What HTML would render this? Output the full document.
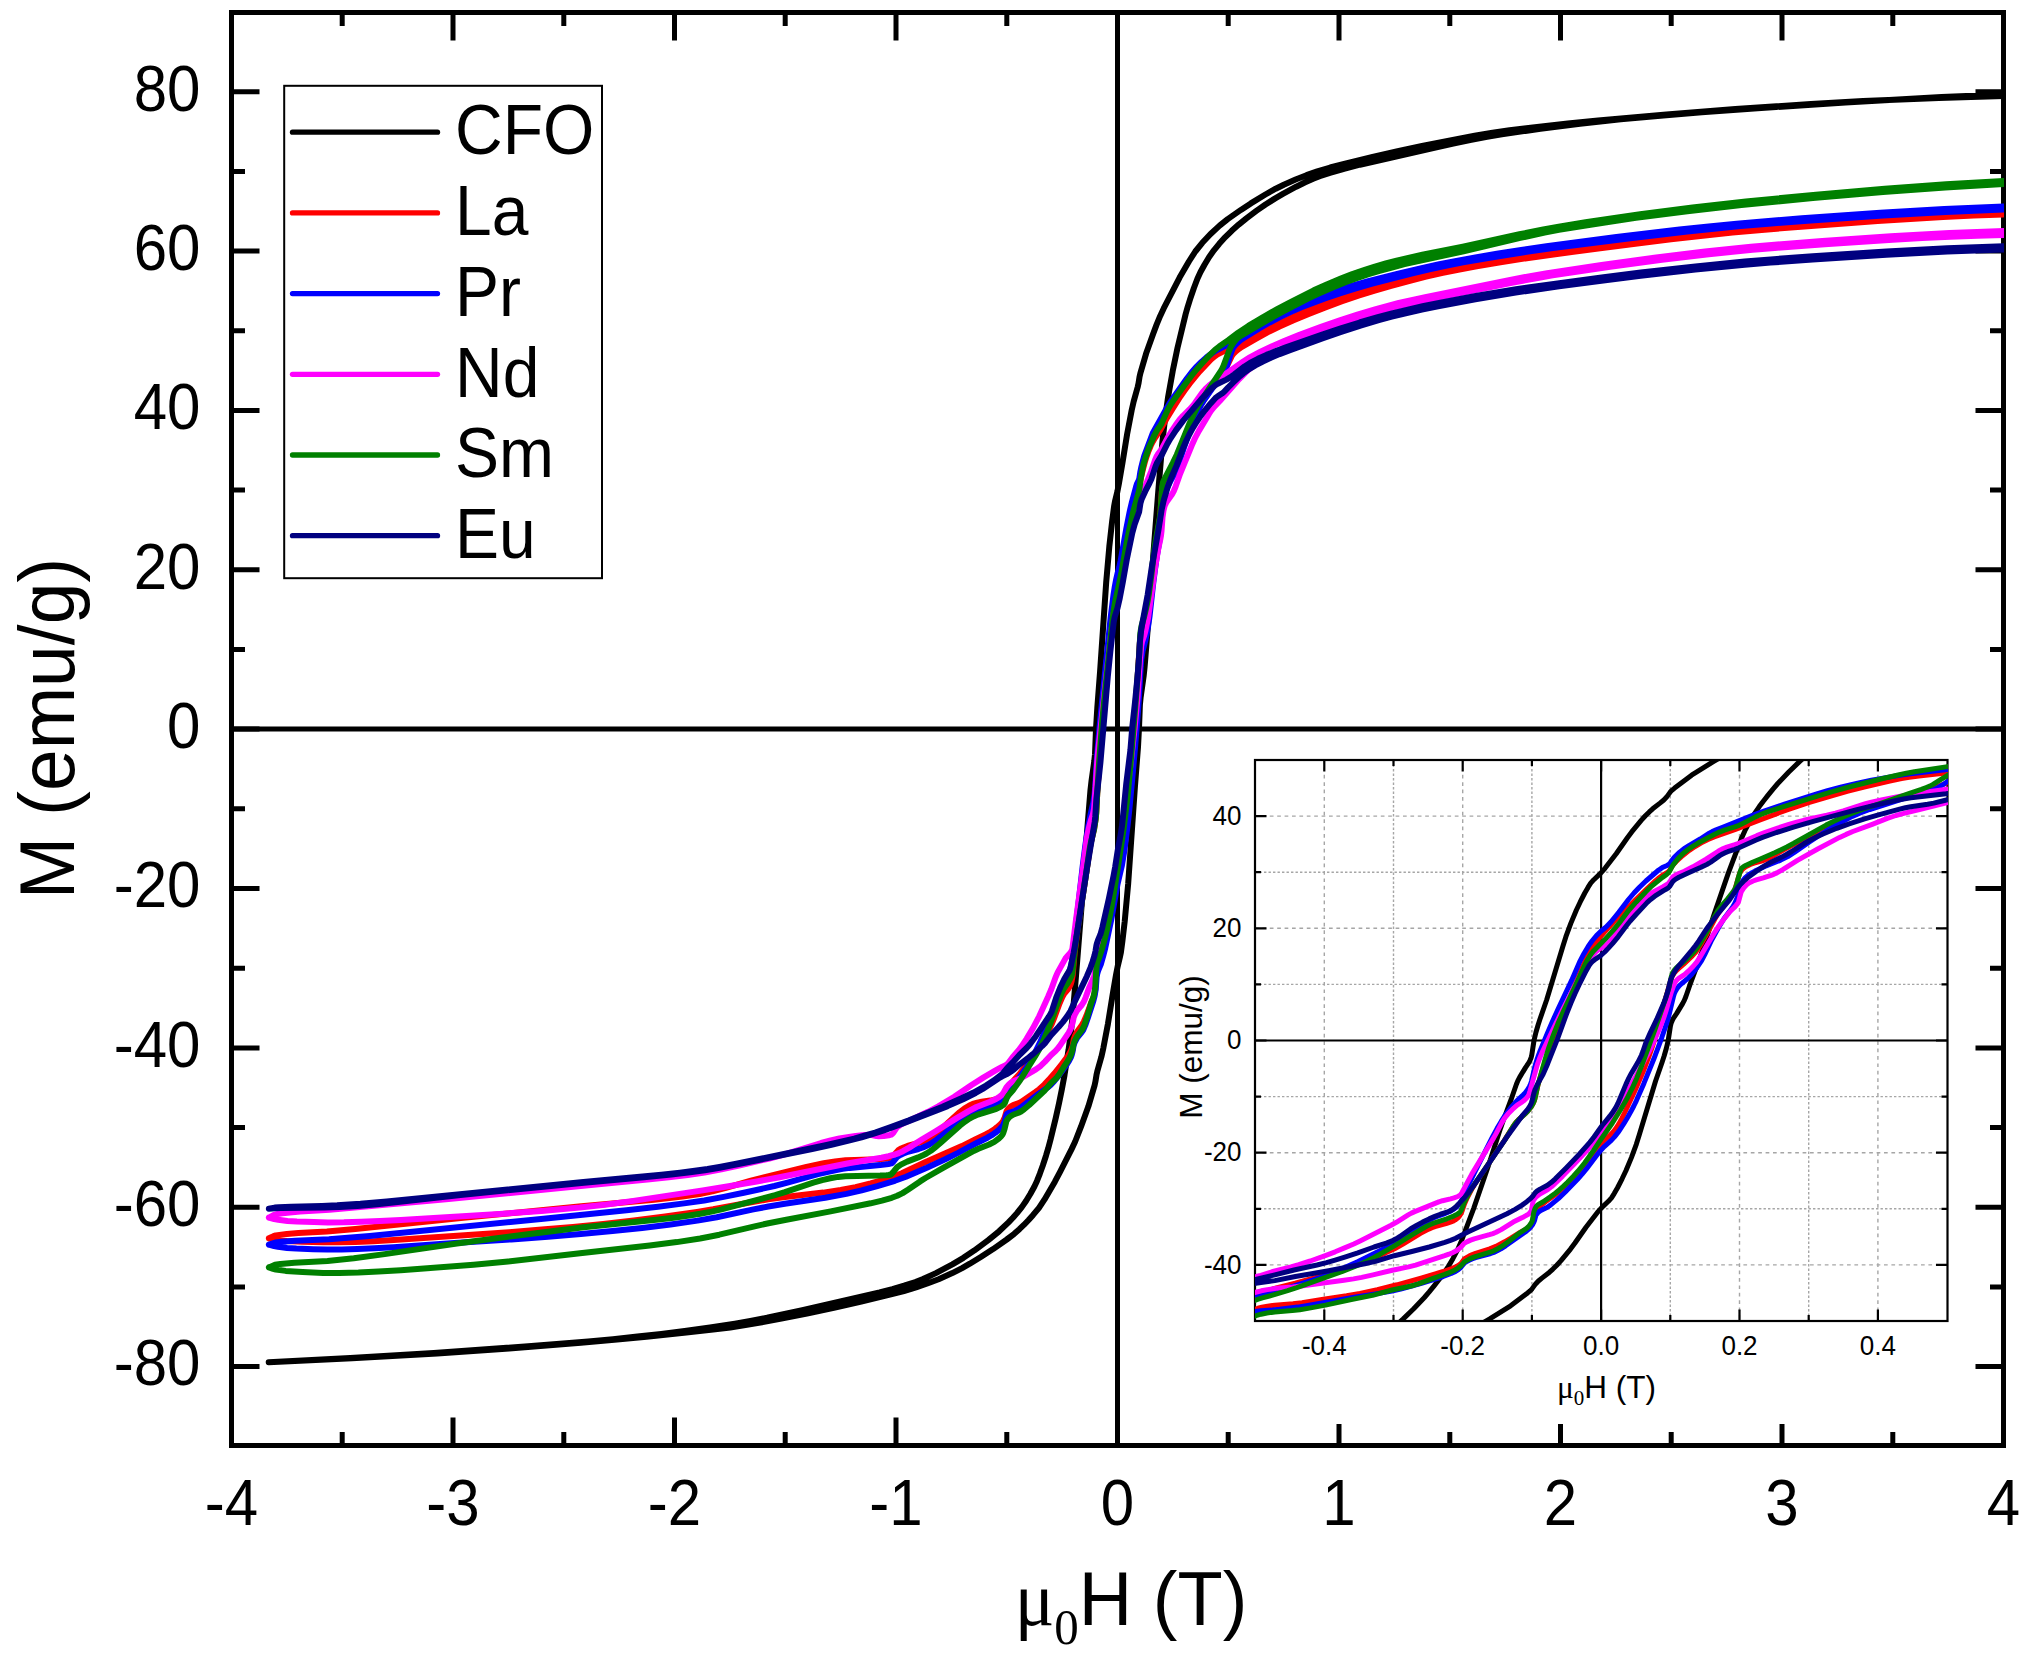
<!DOCTYPE html><html><head><meta charset="utf-8"><title>M-H loops</title>
<style>html,body{margin:0;padding:0;background:#fff;}svg{display:block;}</style></head><body>
<svg width="2038" height="1653" viewBox="0 0 2038 1653">
<rect width="100%" height="100%" fill="#fff"/>
<defs><clipPath id="cm"><rect x="231.5" y="12.5" width="1772.5" height="1433"/></clipPath><clipPath id="ci"><rect x="1255" y="760" width="693" height="561"/></clipPath></defs>
<g stroke="#000" stroke-width="5" fill="none">
<line x1="1117.5" y1="12.5" x2="1117.5" y2="1445.5"/>
<line x1="231.5" y1="729.1" x2="2003.5" y2="729.1"/>
</g>
<path d="M342.2 1445.5V1432M342.2 12.5V26M453 1445.5V1417.5M453 12.5V40.5M563.8 1445.5V1432M563.8 12.5V26M674.5 1445.5V1417.5M674.5 12.5V40.5M785.2 1445.5V1432M785.2 12.5V26M896 1445.5V1417.5M896 12.5V40.5M1006.8 1445.5V1432M1006.8 12.5V26M1117.5 1445.5V1417.5M1117.5 12.5V40.5M1228.2 1445.5V1432M1228.2 12.5V26M1339 1445.5V1417.5M1339 12.5V40.5M1449.8 1445.5V1432M1449.8 12.5V26M1560.5 1445.5V1417.5M1560.5 12.5V40.5M1671.2 1445.5V1432M1671.2 12.5V26M1782 1445.5V1417.5M1782 12.5V40.5M1892.8 1445.5V1432M1892.8 12.5V26M231.5 1366.6H259.5M2003.5 1366.6H1975.5M231.5 1286.9H245M2003.5 1286.9H1990M231.5 1207.2H259.5M2003.5 1207.2H1975.5M231.5 1127.5H245M2003.5 1127.5H1990M231.5 1047.9H259.5M2003.5 1047.9H1975.5M231.5 968.2H245M2003.5 968.2H1990M231.5 888.5H259.5M2003.5 888.5H1975.5M231.5 808.8H245M2003.5 808.8H1990M231.5 729.1H259.5M2003.5 729.1H1975.5M231.5 649.5H245M2003.5 649.5H1990M231.5 569.8H259.5M2003.5 569.8H1975.5M231.5 490.1H245M2003.5 490.1H1990M231.5 410.4H259.5M2003.5 410.4H1975.5M231.5 330.8H245M2003.5 330.8H1990M231.5 251.1H259.5M2003.5 251.1H1975.5M231.5 171.4H245M2003.5 171.4H1990M231.5 91.7H259.5M2003.5 91.7H1975.5" stroke="#000" stroke-width="5" fill="none"/>
<rect x="231.5" y="12.5" width="1772" height="1433" fill="none" stroke="#000" stroke-width="5"/>
<g clip-path="url(#cm)" fill="none" stroke-width="6" stroke-linejoin="round" stroke-linecap="round"><path stroke="#000000" d="M268.7 1362.2L350.2 1358.0 433.8 1352.9 528.2 1346.3 588.2 1341.5 613.0 1339.2 637.4 1336.6 661.3 1333.9 684.7 1330.9 710.0 1327.4 734.9 1323.6 750.4 1320.9 767.0 1317.8 802.3 1310.2 879.6 1292.5 892.4 1289.1 904.1 1285.7 915.4 1282.0 923.0 1279.1 929.2 1276.3 935.9 1273.1 952.4 1264.3 963.4 1257.8 974.2 1250.6 988.3 1240.1 999.1 1231.3 1008.5 1222.4 1012.9 1217.8 1017.0 1213.1 1021.8 1207.1 1026.2 1200.8 1030.3 1194.0 1034.3 1186.7 1037.0 1180.9 1039.8 1173.8 1042.8 1165.5 1046.0 1155.7 1048.1 1148.7 1050.6 1139.3 1055.7 1118.2 1059.0 1103.3 1061.8 1089.6 1064.5 1075.1 1068.6 1049.6 1070.6 1034.8 1072.4 1018.7 1076.0 975.9 1081.4 908.2 1085.3 853.2 1090.5 789.8 1091.5 781.2 1094.3 761.0 1095.0 754.2 1096.0 729.2 1097.3 708.0 1100.1 671.3 1106.2 582.3 1109.3 546.7 1112.1 521.5 1114.1 506.3 1115.1 500.9 1117.4 491.5 1118.9 483.6 1122.4 463.3 1127.1 434.2 1131.7 410.1 1133.7 401.4 1137.7 387.0 1138.5 383.4 1139.6 376.6 1140.4 373.1 1146.1 353.6 1153.1 333.9 1156.6 324.6 1160.2 315.9 1163.7 308.4 1179.6 277.6 1188.9 261.5 1195.3 251.5 1202.3 242.8 1210.3 234.2 1219.6 225.6 1227.7 219.1 1240.9 209.9 1250.8 203.4 1265.4 194.5 1275.7 188.7 1283.8 184.7 1295.6 179.5 1306.5 175.2 1317.3 171.4 1330.2 167.5 1345.1 163.6 1372.6 157.0 1397.7 151.3 1422.1 146.0 1446.4 141.1 1474.7 135.8 1492.6 132.7 1509.6 130.2 1530.6 127.7 1567.8 123.6 1598.1 120.5 1666.4 114.5 1735.4 109.1 1810.9 104.0 1863.1 101.0 1938.8 97.9 2003.5 96.1M268.7 1362.2L352.1 1358.2 437.3 1353.4 509.2 1348.5 580.9 1342.8 617.1 1339.6 646.5 1336.8 686.3 1332.6 713.1 1329.6 730.3 1327.4 743.9 1325.4 758.8 1322.8 781.4 1318.6 808.2 1313.2 835.0 1307.5 861.3 1301.6 889.9 1294.7 903.9 1291.0 916.0 1287.4 927.3 1283.5 938.6 1279.2 952.3 1273.1 962.1 1268.1 969.8 1263.7 980.8 1257.0 993.1 1249.1 1006.8 1239.5 1014.2 1233.8 1019.4 1229.2 1024.1 1224.7 1028.6 1220.0 1032.9 1215.2 1039.0 1207.8 1044.4 1199.7 1054.9 1181.7 1060.2 1171.6 1071.6 1149.1 1075.2 1141.5 1081.0 1126.7 1088.4 1106.3 1094.6 1085.3 1095.4 1081.7 1096.5 1074.9 1097.3 1071.3 1101.4 1056.8 1103.4 1047.8 1107.9 1024.1 1112.6 995.0 1116.0 975.0 1117.6 966.8 1119.8 957.6 1120.9 952.3 1122.4 941.2 1124.7 921.5 1128.2 883.4 1134.9 787.0 1138.0 746.9 1139.0 728.2 1139.9 704.7 1140.6 697.7 1143.6 676.4 1144.6 667.0 1149.7 604.5 1153.6 551.3 1158.3 491.1 1162.4 441.8 1165.0 418.9 1168.1 397.0 1172.7 371.2 1177.5 347.9 1185.6 314.3 1187.7 306.8 1190.1 299.2 1193.9 288.0 1197.4 278.8 1200.5 272.0 1204.5 264.7 1209.0 257.2 1213.9 250.3 1219.2 243.8 1225.3 237.1 1231.7 230.8 1238.7 224.6 1246.4 218.4 1256.3 210.9 1265.5 204.5 1274.8 198.6 1282.9 193.9 1296.2 186.7 1305.2 182.3 1313.2 178.7 1319.7 176.2 1329.9 172.9 1344.0 168.8 1359.9 164.7 1435.4 147.5 1454.4 143.3 1471.3 139.9 1487.0 136.9 1501.8 134.4 1540.4 128.7 1580.0 123.7 1620.7 119.2 1663.3 115.4 1701.8 112.3 1757.6 108.3 1845.5 102.6 1941.6 97.1 1966.3 96.1 1987.6 95.7 1996.9 95.3 1999.3 94.6 2003.5 92.5"/><path stroke="#ff0000" d="M268.9 1238.3L273.5 1236.2 275.8 1235.4 286.8 1233.9 298.4 1233.0 326.9 1231.4 355.3 1228.9 460.8 1218.1 581.4 1206.2 654.1 1199.7 682.4 1196.5 699.6 1194.0 712.4 1191.4 725.0 1188.2 750.9 1180.7 761.9 1177.8 806.5 1166.9 823.8 1163.2 835.1 1161.4 845.5 1160.3 854.8 1159.9 877.2 1159.3 887.8 1158.5 889.9 1157.8 892.3 1156.6 893.8 1155.2 898.1 1150.4 899.1 1149.6 901.2 1148.5 904.2 1147.2 907.4 1146.0 918.5 1143.0 922.8 1141.6 926.8 1139.9 930.7 1137.6 934.9 1134.6 939.5 1130.8 954.3 1116.9 959.5 1112.3 964.4 1108.5 969.0 1105.7 972.8 1103.9 977.3 1102.6 981.7 1101.7 991.9 1100.1 996.6 1099.1 1001.4 1097.5 1003.2 1096.4 1004.8 1094.5 1008.4 1088.1 1012.4 1082.1 1014.5 1079.5 1020.0 1073.4 1027.0 1064.6 1035.5 1053.5 1040.6 1045.5 1046.0 1035.7 1051.5 1024.5 1054.0 1018.4 1059.6 1003.3 1062.2 997.3 1064.3 993.6 1067.9 989.3 1069.3 987.2 1070.8 984.0 1071.6 981.1 1072.7 975.1 1074.6 952.9 1077.5 929.8 1086.6 870.7 1089.9 847.8 1091.1 841.6 1094.0 829.5 1095.7 818.6 1096.2 813.1 1097.3 792.0 1098.8 770.2 1103.6 710.0 1110.9 630.2 1112.8 611.8 1114.4 599.0 1115.9 589.7 1118.6 575.3 1124.5 546.9 1134.4 504.4 1136.9 495.2 1139.2 488.5 1140.9 477.8 1142.8 469.7 1144.8 462.2 1146.6 456.4 1148.5 451.1 1150.6 446.0 1152.6 442.0 1154.9 438.1 1160.5 429.5 1167.6 416.9 1172.8 408.4 1180.2 396.7 1184.9 390.0 1189.6 383.6 1194.7 377.3 1199.7 371.4 1211.2 359.3 1214.5 356.4 1217.6 354.3 1279.1 323.5 1293.7 316.4 1302.0 312.7 1309.8 309.5 1322.7 304.5 1335.8 299.8 1351.5 294.4 1367.3 289.4 1383.1 284.8 1399.4 280.4 1416.9 276.1 1434.5 272.1 1452.0 268.5 1470.7 265.0 1494.3 260.9 1519.0 257.0 1544.8 253.2 1574.4 249.2 1613.4 244.2 1650.6 239.8 1686.2 235.8 1720.6 232.2 1750.7 229.3 1780.4 226.7 1826.8 223.0 1869.7 219.8 1939.1 215.3 1971.8 213.5 2003.5 212.0M268.9 1238.3L275.9 1239.8 286.9 1240.9 302.3 1241.7 323.3 1242.2 338.6 1242.2 355.6 1241.9 373.6 1241.2 393.8 1240.0 509.1 1232.2 541.8 1229.6 573.0 1226.9 603.2 1223.9 633.8 1220.4 665.1 1216.4 697.1 1211.9 713.2 1209.3 751.1 1202.2 768.2 1199.3 785.0 1197.0 823.3 1192.6 840.7 1190.0 855.6 1187.2 870.7 1183.5 879.6 1181.0 888.8 1178.1 896.1 1175.6 901.8 1173.3 926.2 1161.7 961.9 1146.1 976.2 1138.9 985.6 1134.5 990.4 1131.9 993.7 1129.8 996.7 1127.5 999.6 1125.0 1002.2 1122.4 1003.3 1120.6 1004.6 1117.8 1006.6 1111.1 1007.8 1109.3 1009.2 1107.8 1010.9 1106.4 1013.2 1105.1 1018.8 1103.1 1021.5 1101.7 1035.6 1092.0 1039.2 1089.3 1044.3 1084.6 1048.7 1079.9 1054.3 1073.5 1061.5 1064.5 1067.9 1056.0 1070.9 1050.7 1072.5 1046.4 1073.7 1039.6 1075.1 1035.6 1077.3 1031.5 1081.8 1025.2 1083.8 1021.7 1086.6 1015.2 1091.2 1002.5 1093.8 996.5 1094.6 993.2 1095.3 988.9 1096.0 976.2 1096.5 972.0 1097.1 968.1 1099.7 958.1 1104.4 942.6 1109.4 920.9 1111.9 908.5 1117.2 877.4 1121.3 859.4 1123.1 847.9 1125.2 830.8 1128.7 796.8 1132.8 752.4 1134.8 725.2 1138.0 671.1 1140.2 638.3 1141.6 630.0 1146.7 609.0 1148.7 597.8 1154.8 550.3 1158.1 530.6 1159.8 519.5 1160.5 513.0 1161.8 491.8 1162.8 486.0 1163.8 482.4 1165.3 479.0 1166.5 477.2 1169.5 473.4 1171.3 470.0 1176.4 457.3 1184.5 438.8 1190.9 423.3 1193.2 418.3 1196.2 412.4 1202.2 402.4 1207.9 394.0 1215.7 382.0 1222.5 372.5 1225.7 367.6 1228.5 362.9 1232.2 355.3 1233.8 353.4 1236.1 351.1 1238.8 348.9 1241.9 346.8 1256.2 338.6 1267.5 332.4 1279.5 326.5 1293.0 320.4 1308.7 313.9 1325.4 307.4 1342.1 301.3 1358.4 295.7 1374.7 290.6 1390.3 286.0 1408.9 281.0 1426.1 276.7 1442.8 272.9 1458.1 269.7 1476.6 266.3 1500.4 262.2 1526.7 258.2 1555.2 254.2 1600.1 248.2 1637.3 243.4 1671.0 239.3 1702.6 235.7 1732.5 232.6 1761.6 229.9 1794.3 227.2 1837.8 223.9 1877.6 221.1 1943.1 217.1 1973.8 215.6 2003.5 214.4"/><path stroke="#0000ff" d="M268.9 1244.7L275.3 1242.5 281.8 1241.7 295.3 1240.7 329.0 1239.2 369.7 1235.9 543.5 1218.8 626.5 1210.2 658.0 1206.8 684.1 1203.4 704.2 1200.5 723.7 1196.9 743.8 1192.8 774.4 1186.0 786.6 1182.9 818.0 1174.2 827.0 1172.0 835.2 1170.2 842.7 1168.9 849.8 1167.9 880.1 1165.1 888.5 1164.0 891.4 1163.4 892.2 1162.9 893.1 1162.0 897.1 1156.8 900.3 1154.9 903.4 1153.5 906.8 1152.2 918.5 1149.0 922.9 1147.5 927.3 1145.6 931.8 1143.0 936.0 1140.1 940.8 1136.5 961.1 1119.5 966.0 1116.0 970.5 1113.2 974.2 1111.3 978.2 1109.7 991.2 1105.8 995.8 1104.2 1000.5 1102.0 1002.2 1101.0 1003.4 1100.1 1004.8 1098.5 1006.7 1094.2 1009.1 1090.4 1013.7 1084.3 1019.4 1077.4 1026.9 1066.9 1031.0 1060.3 1035.7 1051.4 1040.2 1042.1 1049.8 1020.9 1052.1 1014.5 1056.7 999.4 1060.0 990.4 1063.8 981.3 1067.8 974.5 1069.1 971.9 1070.5 968.2 1071.4 964.8 1073.1 954.7 1074.5 939.7 1077.0 916.4 1082.7 866.1 1085.5 844.1 1088.5 825.0 1090.5 814.7 1093.2 803.2 1094.6 794.3 1095.3 786.5 1097.0 756.0 1100.2 720.1 1110.6 618.0 1113.4 595.5 1114.6 587.9 1116.0 580.2 1117.5 573.6 1119.2 567.6 1120.7 560.5 1126.3 528.8 1129.7 511.6 1131.9 502.3 1136.0 486.9 1137.1 483.5 1138.6 480.5 1139.3 478.8 1140.4 471.5 1141.3 467.2 1142.8 461.2 1144.3 455.8 1153.0 432.6 1165.3 410.6 1169.2 404.0 1174.2 396.4 1186.9 378.5 1191.9 372.0 1196.7 366.6 1201.4 361.9 1206.4 357.5 1211.5 353.6 1217.4 349.8 1226.5 345.3 1230.5 343.0 1249.8 330.3 1276.4 314.9 1286.3 309.7 1295.2 305.3 1303.4 301.7 1311.5 298.5 1322.5 294.6 1334.2 290.8 1349.5 286.3 1367.4 281.5 1398.2 273.7 1420.6 268.4 1438.2 264.5 1455.1 261.1 1475.5 257.4 1496.9 253.7 1521.2 249.9 1546.5 246.2 1616.5 237.0 1679.5 229.6 1708.7 226.5 1736.7 223.7 1765.6 221.2 1801.9 218.3 1880.3 212.8 1944.3 209.0 2003.5 206.4M268.9 1244.7L274.1 1246.1 277.9 1246.8 287.1 1247.9 296.4 1248.6 313.2 1249.2 327.1 1249.5 341.7 1249.4 357.4 1249.0 374.4 1248.3 393.5 1247.2 454.5 1243.0 511.3 1239.4 548.1 1236.8 580.8 1234.1 612.5 1231.1 642.2 1227.9 670.5 1224.4 697.5 1220.6 716.8 1217.2 753.4 1209.4 768.3 1206.5 784.8 1203.8 825.2 1197.7 846.4 1193.9 861.7 1190.4 877.3 1186.2 894.9 1180.8 906.0 1176.7 926.8 1167.8 945.2 1159.3 958.1 1152.9 975.7 1143.5 987.4 1137.7 991.7 1135.2 995.5 1132.6 999.0 1129.7 1002.1 1126.4 1003.3 1124.6 1004.6 1121.9 1006.1 1115.5 1006.7 1114.0 1008.6 1112.9 1012.3 1111.9 1014.8 1110.8 1018.0 1109.2 1020.6 1107.6 1038.5 1093.9 1047.4 1087.6 1050.9 1084.6 1054.2 1081.2 1057.9 1076.7 1066.5 1064.9 1069.0 1061.0 1070.8 1057.4 1071.7 1054.9 1072.6 1051.5 1073.7 1045.1 1074.9 1042.0 1077.1 1037.9 1081.4 1032.7 1083.2 1030.0 1085.2 1025.4 1087.6 1018.6 1093.3 1001.0 1094.6 996.1 1095.7 989.6 1096.6 977.3 1097.2 974.0 1098.3 970.2 1100.8 964.4 1103.2 956.0 1105.2 948.2 1111.3 919.4 1117.5 884.3 1121.8 865.9 1124.5 849.7 1127.5 826.0 1129.4 808.8 1132.1 780.2 1135.0 747.7 1137.9 712.4 1139.1 695.1 1140.8 665.2 1141.3 659.2 1142.6 651.1 1145.2 641.1 1146.4 635.4 1148.1 626.2 1149.6 616.0 1152.9 586.0 1155.0 569.3 1156.9 555.8 1159.2 542.4 1160.2 535.1 1161.4 522.2 1162.8 503.2 1163.4 499.3 1164.1 495.8 1165.5 491.6 1167.0 488.0 1170.0 481.9 1175.0 473.0 1177.2 468.0 1179.3 462.0 1184.0 447.3 1189.8 430.9 1194.0 420.0 1197.8 411.0 1200.4 406.0 1203.4 401.1 1215.3 384.1 1221.4 376.6 1223.9 372.8 1225.3 370.0 1227.0 365.6 1230.2 355.3 1232.1 350.2 1233.0 348.0 1234.6 345.9 1236.5 343.7 1240.7 340.0 1243.8 337.9 1259.6 328.2 1269.6 322.5 1279.9 317.1 1290.4 312.1 1301.4 307.3 1313.4 302.6 1326.3 297.9 1339.8 293.3 1354.2 288.9 1372.2 283.7 1393.7 278.0 1412.4 273.3 1430.4 269.1 1446.9 265.6 1463.0 262.4 1483.6 258.7 1505.0 255.2 1528.2 251.6 1552.8 248.1 1628.2 238.4 1687.2 231.5 1740.6 226.1 1768.3 223.7 1807.2 220.8 1883.1 215.5 1945.6 212.0 2003.5 209.6"/><path stroke="#ff00ff" d="M268.9 1217.6L273.5 1215.2 276.1 1214.3 282.4 1213.3 289.8 1212.4 300.2 1211.6 329.6 1209.7 448.7 1198.9 510.2 1193.0 588.2 1185.2 647.4 1179.6 668.8 1177.3 687.7 1175.0 704.5 1172.5 721.4 1169.4 740.1 1165.4 769.3 1158.5 784.7 1154.3 821.1 1143.0 830.7 1140.4 839.4 1138.5 855.6 1135.9 864.9 1134.9 870.5 1134.8 876.5 1136.1 878.6 1136.3 883.7 1136.1 888.8 1135.3 891.2 1134.7 892.1 1134.1 893.3 1132.7 896.9 1127.4 898.1 1126.4 900.3 1124.9 903.8 1123.1 910.3 1120.2 928.0 1111.8 938.3 1106.4 954.3 1096.7 971.2 1085.2 983.3 1077.6 995.6 1070.4 1002.0 1066.9 1005.6 1065.3 1007.2 1064.2 1008.9 1062.3 1012.8 1056.9 1018.4 1050.6 1021.4 1046.7 1026.6 1038.9 1033.0 1028.1 1039.2 1016.3 1048.1 996.7 1051.3 989.2 1055.6 977.2 1057.7 972.4 1065.5 958.4 1066.8 956.7 1070.4 952.8 1071.6 950.8 1072.4 948.7 1076.1 919.0 1083.1 867.4 1086.6 839.4 1087.7 833.3 1089.1 827.1 1090.7 820.9 1093.0 814.0 1094.1 808.2 1094.7 800.7 1097.1 763.1 1098.5 747.5 1105.1 686.8 1111.5 630.2 1113.4 615.6 1114.4 609.6 1115.7 603.7 1117.5 597.8 1119.1 593.5 1120.3 588.6 1123.1 572.8 1126.5 551.3 1128.5 541.1 1131.0 529.8 1132.5 523.8 1133.7 519.6 1137.4 510.5 1139.0 506.1 1139.4 504.1 1140.4 497.3 1140.9 495.2 1141.9 492.9 1144.2 488.8 1146.8 482.5 1151.1 471.5 1155.1 460.0 1156.7 456.3 1157.8 454.4 1160.3 451.1 1161.6 449.2 1167.6 437.8 1171.0 432.2 1175.5 425.3 1179.5 419.8 1183.0 415.8 1189.5 409.5 1192.2 406.6 1194.8 403.3 1202.6 392.2 1205.5 389.0 1209.3 385.4 1213.2 382.2 1217.4 379.0 1228.8 371.8 1243.3 361.5 1249.8 357.4 1260.5 351.7 1272.1 346.2 1284.7 340.8 1299.5 334.9 1320.4 327.1 1339.8 320.3 1358.2 314.3 1375.9 309.1 1398.8 303.0 1425.3 297.1 1507.7 280.4 1528.7 276.4 1547.2 273.1 1601.6 264.9 1656.2 257.4 1705.1 251.5 1751.0 246.8 1774.5 244.8 1822.3 241.0 1890.8 236.3 1949.4 233.1 1976.9 232.0 2003.5 231.1M268.9 1217.6L274.2 1219.1 278.2 1219.8 287.5 1220.9 296.9 1221.5 313.9 1222.1 327.9 1222.4 343.9 1222.3 361.2 1221.8 379.8 1221.1 400.8 1220.0 499.3 1213.9 541.6 1210.9 579.8 1207.5 604.9 1204.7 633.3 1200.9 702.7 1190.4 731.6 1185.8 756.8 1181.5 778.3 1177.5 848.6 1163.2 881.4 1157.7 888.6 1156.2 895.0 1154.5 898.8 1153.1 902.9 1151.2 909.2 1147.6 922.2 1139.3 935.2 1131.5 956.3 1118.4 968.7 1111.1 976.5 1107.0 990.1 1101.8 996.0 1099.0 999.4 1096.9 1002.2 1094.6 1003.3 1093.1 1006.5 1087.2 1009.1 1084.3 1011.4 1082.3 1013.7 1081.0 1018.8 1079.2 1021.8 1077.7 1035.9 1069.4 1040.1 1066.3 1045.0 1061.6 1051.1 1055.0 1055.5 1051.1 1057.3 1049.1 1059.6 1046.1 1068.6 1032.9 1070.3 1029.7 1071.4 1027.0 1072.6 1022.8 1073.7 1017.4 1074.7 1014.8 1076.9 1010.8 1081.8 1005.0 1084.0 1001.4 1085.6 997.6 1089.4 987.1 1092.7 979.6 1094.1 976.1 1094.6 974.1 1095.2 970.3 1095.7 957.5 1096.4 952.8 1097.9 947.3 1100.4 940.8 1101.7 936.7 1105.2 921.7 1108.9 904.7 1114.9 875.3 1121.7 834.5 1124.1 816.9 1130.9 761.4 1134.6 728.7 1137.6 696.8 1140.0 660.4 1141.2 645.9 1142.1 641.6 1144.0 636.1 1145.4 630.9 1148.1 617.7 1155.2 566.8 1158.5 547.5 1160.3 539.4 1161.0 535.4 1161.5 531.2 1162.5 517.2 1163.5 510.6 1164.6 506.1 1166.4 502.2 1171.9 494.6 1173.8 491.0 1175.8 486.1 1180.1 473.8 1184.3 463.5 1191.7 445.6 1195.3 437.6 1198.9 430.9 1209.0 413.9 1211.3 410.4 1213.9 407.1 1219.8 400.9 1239.1 379.1 1246.4 371.6 1250.3 368.3 1258.1 362.7 1265.5 357.9 1273.2 353.3 1283.4 347.8 1294.7 342.4 1309.6 335.8 1324.0 330.0 1338.1 324.6 1352.4 319.6 1366.9 315.0 1381.7 310.7 1402.9 305.2 1427.7 299.7 1511.8 282.8 1533.4 278.7 1552.6 275.4 1610.1 266.8 1661.9 259.8 1708.7 254.2 1752.5 249.8 1774.7 247.9 1824.8 244.2 1892.6 239.7 1922.2 238.1 1950.4 236.8 1977.4 235.8 2003.5 235.1"/><path stroke="#008000" d="M268.9 1267.4L275.0 1264.8 280.4 1263.9 294.4 1262.7 327.5 1260.9 353.8 1258.2 384.7 1254.1 456.9 1243.5 527.9 1234.2 583.8 1227.3 656.0 1219.8 673.6 1217.7 689.3 1215.5 700.3 1213.8 710.2 1211.9 721.5 1209.3 734.7 1205.9 775.1 1195.1 784.9 1192.1 813.3 1182.7 822.2 1180.1 830.3 1178.3 838.1 1176.9 845.4 1176.2 880.2 1175.6 886.4 1175.3 888.9 1175.0 890.7 1174.5 891.7 1173.8 893.0 1172.4 897.0 1167.3 900.9 1164.6 907.1 1161.6 918.2 1157.4 922.4 1155.6 926.5 1153.5 930.8 1150.8 934.9 1147.6 939.5 1143.8 959.8 1125.7 964.9 1121.7 969.5 1118.6 973.6 1116.4 977.9 1114.6 991.6 1110.4 996.3 1108.8 1000.9 1106.6 1003.5 1104.8 1004.8 1103.2 1006.5 1098.6 1007.5 1096.8 1009.1 1094.6 1012.9 1090.2 1020.3 1080.0 1035.0 1056.5 1039.4 1048.9 1043.4 1040.6 1047.1 1031.9 1051.5 1020.3 1056.7 1005.8 1061.6 993.2 1063.9 988.5 1068.1 982.5 1070.3 978.5 1071.5 975.9 1072.4 972.8 1074.2 955.1 1076.5 936.6 1086.5 871.3 1089.5 849.8 1090.9 842.2 1094.1 829.3 1095.7 819.0 1096.3 812.4 1097.3 792.1 1099.3 759.5 1102.2 721.3 1105.4 688.3 1111.9 625.2 1113.8 609.7 1115.2 601.6 1118.7 585.8 1121.6 571.6 1126.2 545.3 1128.8 532.0 1133.4 511.0 1138.9 491.4 1139.5 488.4 1140.5 480.0 1142.0 471.4 1143.6 463.9 1145.6 457.0 1148.7 448.2 1153.9 436.2 1157.0 430.3 1160.3 425.7 1161.7 423.4 1167.0 411.4 1168.7 408.0 1171.2 403.8 1174.2 399.4 1186.6 382.2 1191.3 375.9 1196.4 369.7 1202.1 363.3 1210.4 354.3 1215.0 349.8 1219.2 346.5 1228.3 340.2 1238.2 332.7 1248.4 325.9 1263.2 317.0 1277.6 308.9 1290.5 302.1 1313.7 290.3 1327.3 284.2 1340.8 278.5 1352.3 274.0 1364.0 270.1 1374.9 266.6 1385.8 263.5 1396.6 260.6 1407.3 258.1 1422.4 254.8 1462.8 246.8 1519.5 234.3 1543.3 229.4 1558.7 226.7 1585.6 222.3 1612.8 218.2 1640.2 214.3 1692.6 207.5 1745.9 201.5 1816.0 194.7 1884.8 188.7 1946.1 184.3 2003.5 181.0M268.9 1267.4L273.1 1268.8 275.8 1269.5 285.7 1270.9 302.6 1272.0 323.2 1272.9 339.3 1272.9 358.4 1272.5 378.4 1271.6 400.8 1270.2 473.6 1264.8 508.1 1261.5 580.0 1253.3 649.7 1245.6 676.8 1242.1 700.1 1238.5 709.2 1236.8 719.3 1234.7 754.6 1226.3 768.5 1223.2 786.3 1219.7 830.6 1211.4 870.6 1203.3 882.0 1200.6 891.8 1197.8 897.2 1195.8 902.6 1193.1 907.9 1189.7 920.1 1181.4 925.5 1178.0 944.0 1167.4 973.7 1150.9 978.4 1148.8 989.1 1144.5 994.3 1141.8 998.8 1138.5 1001.1 1136.3 1002.3 1134.9 1003.3 1132.9 1004.6 1128.9 1006.5 1120.9 1007.5 1119.3 1008.7 1117.8 1010.6 1116.2 1013.1 1114.7 1018.6 1112.7 1021.0 1111.5 1024.1 1109.3 1029.2 1105.0 1038.0 1096.7 1044.2 1091.1 1050.7 1083.4 1056.2 1078.3 1058.7 1075.2 1063.6 1067.2 1067.5 1061.3 1069.3 1058.1 1070.8 1055.0 1071.6 1052.7 1072.6 1049.1 1073.7 1043.5 1075.1 1039.9 1077.3 1036.1 1082.0 1029.8 1083.9 1026.3 1086.4 1019.3 1091.1 1003.3 1093.4 997.1 1094.4 992.6 1095.3 986.5 1096.0 972.9 1096.7 965.0 1097.4 962.0 1099.0 958.2 1101.3 951.1 1104.2 941.1 1106.8 930.4 1110.1 914.5 1112.2 903.1 1115.0 886.1 1121.0 846.8 1123.7 828.2 1127.5 796.9 1130.5 764.8 1134.7 714.0 1138.2 669.0 1139.3 653.5 1140.3 633.5 1141.5 626.1 1143.9 617.5 1146.4 607.0 1147.7 600.8 1148.8 594.3 1151.6 573.2 1154.8 545.2 1159.4 520.3 1160.2 514.7 1160.7 509.2 1162.1 487.9 1162.6 484.1 1163.1 482.0 1163.8 480.3 1173.0 462.6 1176.9 454.5 1189.7 422.9 1194.3 413.0 1197.6 406.7 1201.2 400.7 1221.4 370.2 1223.5 365.9 1229.0 351.0 1230.7 347.0 1233.6 342.5 1236.8 338.8 1238.4 337.4 1240.3 336.2 1258.1 325.6 1271.9 317.6 1285.7 310.2 1308.0 298.7 1317.6 294.0 1333.2 287.2 1345.5 282.2 1356.7 278.1 1367.8 274.4 1379.5 270.9 1391.8 267.5 1404.5 264.2 1420.6 260.5 1463.5 251.4 1520.3 237.9 1544.6 232.5 1558.9 229.8 1584.1 225.7 1609.8 221.7 1635.9 217.9 1687.3 211.2 1741.4 205.1 1812.9 198.1 1883.0 192.1 1945.3 187.5 2003.5 184.1"/><path stroke="#000080" d="M268.9 1208.8L274.7 1207.6 278.8 1207.3 291.3 1206.7 322.0 1205.9 337.1 1205.3 360.4 1203.8 386.8 1201.5 583.4 1182.1 661.4 1174.7 679.9 1172.7 696.6 1170.6 707.6 1169.0 719.5 1166.9 735.1 1163.9 797.2 1151.3 825.6 1145.3 854.2 1138.6 865.3 1135.5 875.2 1132.5 891.4 1126.8 909.0 1120.2 942.5 1106.7 961.5 1098.3 973.6 1092.5 986.0 1085.5 994.0 1080.4 1000.8 1075.1 1002.9 1073.2 1006.7 1068.7 1013.0 1062.2 1019.4 1055.0 1026.6 1048.0 1029.7 1044.5 1035.8 1036.2 1048.8 1016.7 1050.6 1013.7 1051.9 1010.9 1056.6 996.5 1060.3 987.3 1064.3 979.0 1066.1 975.9 1069.1 971.2 1070.0 969.2 1070.9 965.8 1073.7 952.5 1076.4 937.4 1087.0 868.0 1094.7 821.9 1095.3 816.2 1096.4 798.5 1098.9 777.0 1100.4 762.7 1107.8 676.6 1110.4 651.0 1113.7 622.2 1114.8 616.7 1117.5 608.0 1119.8 598.0 1122.9 581.8 1126.8 559.5 1132.3 533.0 1134.7 524.2 1139.1 512.0 1140.4 503.5 1141.5 499.6 1145.2 491.4 1149.5 483.1 1151.3 479.2 1155.6 466.2 1157.2 462.5 1161.3 455.9 1167.3 444.0 1170.3 438.8 1175.9 430.4 1183.2 420.6 1201.1 399.4 1208.9 391.1 1213.0 387.2 1215.3 385.3 1217.7 383.8 1226.4 379.6 1230.1 377.4 1234.3 374.4 1244.6 366.4 1250.0 362.9 1257.9 358.8 1266.5 354.9 1275.8 351.1 1286.6 347.1 1321.5 334.9 1340.1 328.7 1359.6 322.5 1377.8 317.2 1391.1 313.7 1406.9 309.9 1422.7 306.3 1439.1 302.9 1475.8 296.0 1516.0 289.3 1559.3 283.1 1603.6 277.3 1640.9 272.6 1695.5 266.4 1744.7 261.5 1770.7 259.4 1812.8 256.3 1886.5 251.5 1947.3 248.3 2003.5 246.3M268.9 1208.8L275.1 1208.2 280.8 1208.0 324.1 1207.4 339.5 1206.9 357.4 1205.9 377.1 1204.2 397.8 1202.1 460.4 1195.0 584.0 1182.8 644.0 1177.3 671.3 1174.5 690.0 1172.3 704.8 1170.2 719.6 1167.7 737.2 1164.3 812.1 1149.0 831.4 1144.8 848.7 1140.7 861.6 1137.4 873.0 1134.0 883.8 1130.4 902.3 1123.6 936.0 1110.7 947.6 1106.1 963.1 1099.2 975.6 1093.0 982.7 1088.9 998.5 1078.5 1002.1 1076.4 1006.8 1074.1 1011.0 1071.5 1014.1 1069.3 1019.8 1064.3 1027.9 1058.2 1032.5 1054.4 1042.1 1046.1 1044.8 1043.4 1051.0 1035.2 1058.8 1026.8 1062.8 1022.1 1067.3 1016.1 1070.5 1011.0 1075.5 1000.0 1086.9 976.2 1090.4 967.8 1092.6 961.7 1094.5 955.5 1095.5 951.1 1096.4 945.5 1097.0 943.1 1097.9 940.4 1100.5 934.2 1102.4 927.2 1108.8 898.9 1113.5 876.0 1115.2 866.8 1117.8 850.0 1120.8 833.9 1122.1 825.4 1126.3 783.3 1130.4 750.2 1132.3 726.8 1135.3 699.7 1137.5 676.9 1138.8 660.6 1139.8 643.0 1141.1 630.8 1142.5 622.5 1147.7 594.5 1151.9 566.5 1158.5 529.7 1161.7 509.4 1163.8 500.2 1167.6 487.4 1170.4 479.4 1176.6 465.4 1183.0 448.2 1186.1 441.0 1189.4 434.2 1192.9 427.9 1196.4 422.2 1200.7 415.9 1204.9 410.3 1210.6 403.4 1215.3 398.2 1217.4 396.5 1221.9 393.6 1223.9 392.0 1228.0 387.6 1233.8 381.9 1238.9 377.1 1243.2 373.4 1248.7 369.3 1255.4 365.3 1262.8 361.5 1270.8 357.8 1279.5 354.1 1290.0 350.2 1323.0 338.2 1341.1 331.9 1360.5 325.6 1378.8 320.2 1391.8 316.7 1406.7 313.1 1421.9 309.6 1438.0 306.3 1475.3 299.3 1515.6 292.6 1559.0 286.3 1603.3 280.5 1640.6 275.8 1695.3 269.6 1744.6 264.7 1770.6 262.6 1812.6 259.5 1886.4 254.7 1947.3 251.5 2003.5 249.5"/></g>
<g font-family='"Liberation Sans", Arial, sans-serif' font-size="60" fill="#000"><text x="231.5" y="1524.5" text-anchor="middle" transform="translate(0 -106.7) scale(1 1.07)">-4</text><text x="453" y="1524.5" text-anchor="middle" transform="translate(0 -106.7) scale(1 1.07)">-3</text><text x="674.5" y="1524.5" text-anchor="middle" transform="translate(0 -106.7) scale(1 1.07)">-2</text><text x="896" y="1524.5" text-anchor="middle" transform="translate(0 -106.7) scale(1 1.07)">-1</text><text x="1117.5" y="1524.5" text-anchor="middle" transform="translate(0 -106.7) scale(1 1.07)">0</text><text x="1339" y="1524.5" text-anchor="middle" transform="translate(0 -106.7) scale(1 1.07)">1</text><text x="1560.5" y="1524.5" text-anchor="middle" transform="translate(0 -106.7) scale(1 1.07)">2</text><text x="1782" y="1524.5" text-anchor="middle" transform="translate(0 -106.7) scale(1 1.07)">3</text><text x="2003.5" y="1524.5" text-anchor="middle" transform="translate(0 -106.7) scale(1 1.07)">4</text><text x="200.5" y="1385.5" text-anchor="end" transform="translate(0 -97) scale(1 1.07)">-80</text><text x="200.5" y="1226.1" text-anchor="end" transform="translate(0 -85.8) scale(1 1.07)">-60</text><text x="200.5" y="1066.8" text-anchor="end" transform="translate(0 -74.7) scale(1 1.07)">-40</text><text x="200.5" y="907.4" text-anchor="end" transform="translate(0 -63.5) scale(1 1.07)">-20</text><text x="200.5" y="748" text-anchor="end" transform="translate(0 -52.4) scale(1 1.07)">0</text><text x="200.5" y="588.7" text-anchor="end" transform="translate(0 -41.2) scale(1 1.07)">20</text><text x="200.5" y="429.3" text-anchor="end" transform="translate(0 -30.1) scale(1 1.07)">40</text><text x="200.5" y="270" text-anchor="end" transform="translate(0 -18.9) scale(1 1.07)">60</text><text x="200.5" y="110.6" text-anchor="end" transform="translate(0 -7.7) scale(1 1.07)">80</text></g>
<text transform="translate(74,728.5) rotate(-90) scale(1 1.035)" text-anchor="middle" font-family='"Liberation Sans", Arial, sans-serif' font-size="75">M (emu/g)</text>
<text x="1131" y="1625" text-anchor="middle" font-family='"Liberation Sans", Arial, sans-serif' font-size="74" transform="translate(0 -56.9) scale(1 1.035)"><tspan font-family='"Liberation Serif", "Times New Roman", serif'>&#956;</tspan><tspan font-family='"Liberation Serif", "Times New Roman", serif' font-size="49" dy="18">0</tspan><tspan dy="-18">H (T)</tspan></text>
<rect x="284.2" y="85.8" width="317.8" height="492.4" fill="#fff" stroke="#000" stroke-width="2"/><line x1="292.5" y1="132.2" x2="437.5" y2="132.2" stroke="#000000" stroke-width="5.3" stroke-linecap="round"/><text x="455" y="154.5" font-family='"Liberation Sans", Arial, sans-serif' font-size="66" transform="translate(0 -11.6) scale(1 1.075)">CFO</text><line x1="292.5" y1="212.9" x2="437.5" y2="212.9" stroke="#ff0000" stroke-width="5.3" stroke-linecap="round"/><text x="455" y="235.2" font-family='"Liberation Sans", Arial, sans-serif' font-size="66" transform="translate(0 -17.6) scale(1 1.075)">La</text><line x1="292.5" y1="293.6" x2="437.5" y2="293.6" stroke="#0000ff" stroke-width="5.3" stroke-linecap="round"/><text x="455" y="315.9" font-family='"Liberation Sans", Arial, sans-serif' font-size="66" transform="translate(0 -23.7) scale(1 1.075)">Pr</text><line x1="292.5" y1="374.3" x2="437.5" y2="374.3" stroke="#ff00ff" stroke-width="5.3" stroke-linecap="round"/><text x="455" y="396.6" font-family='"Liberation Sans", Arial, sans-serif' font-size="66" transform="translate(0 -29.7) scale(1 1.075)">Nd</text><line x1="292.5" y1="455" x2="437.5" y2="455" stroke="#008000" stroke-width="5.3" stroke-linecap="round"/><text x="455" y="477.3" font-family='"Liberation Sans", Arial, sans-serif' font-size="66" transform="translate(0 -35.8) scale(1 1.075)">Sm</text><line x1="292.5" y1="535.7" x2="437.5" y2="535.7" stroke="#000080" stroke-width="5.3" stroke-linecap="round"/><text x="455" y="558" font-family='"Liberation Sans", Arial, sans-serif' font-size="66" transform="translate(0 -41.8) scale(1 1.075)">Eu</text>
<rect x="1160" y="740" width="810" height="684" fill="#fff"/><g stroke="#a6a6a6" stroke-width="1.4"><line x1="1324.3" y1="760" x2="1324.3" y2="1321" stroke-dasharray="3.7 3.7"/><line x1="1393.5" y1="760" x2="1393.5" y2="1321" stroke-dasharray="2.4 2.1"/><line x1="1462.7" y1="760" x2="1462.7" y2="1321" stroke-dasharray="3.7 3.7"/><line x1="1531.9" y1="760" x2="1531.9" y2="1321" stroke-dasharray="2.4 2.1"/><line x1="1670.3" y1="760" x2="1670.3" y2="1321" stroke-dasharray="2.4 2.1"/><line x1="1739.5" y1="760" x2="1739.5" y2="1321" stroke-dasharray="3.7 3.7"/><line x1="1808.7" y1="760" x2="1808.7" y2="1321" stroke-dasharray="2.4 2.1"/><line x1="1877.9" y1="760" x2="1877.9" y2="1321" stroke-dasharray="3.7 3.7"/><line x1="1255" y1="1264.9" x2="1947.5" y2="1264.9" stroke-dasharray="3.7 3.7"/><line x1="1255" y1="1208.8" x2="1947.5" y2="1208.8" stroke-dasharray="2.4 2.1"/><line x1="1255" y1="1152.7" x2="1947.5" y2="1152.7" stroke-dasharray="3.7 3.7"/><line x1="1255" y1="1096.6" x2="1947.5" y2="1096.6" stroke-dasharray="2.4 2.1"/><line x1="1255" y1="984.4" x2="1947.5" y2="984.4" stroke-dasharray="2.4 2.1"/><line x1="1255" y1="928.3" x2="1947.5" y2="928.3" stroke-dasharray="3.7 3.7"/><line x1="1255" y1="872.2" x2="1947.5" y2="872.2" stroke-dasharray="2.4 2.1"/><line x1="1255" y1="816.1" x2="1947.5" y2="816.1" stroke-dasharray="3.7 3.7"/></g><g stroke="#000" stroke-width="2.2"><line x1="1601.1" y1="760" x2="1601.1" y2="1321"/><line x1="1255" y1="1040.5" x2="1947.5" y2="1040.5"/></g><path d="M1324.3 1321V1309.5M1324.3 760V771.5M1393.5 1321V1315M1393.5 760V766M1462.7 1321V1309.5M1462.7 760V771.5M1531.9 1321V1315M1531.9 760V766M1601.1 1321V1309.5M1601.1 760V771.5M1670.3 1321V1315M1670.3 760V766M1739.5 1321V1309.5M1739.5 760V771.5M1808.7 1321V1315M1808.7 760V766M1877.9 1321V1309.5M1877.9 760V771.5M1255 1264.9H1266.5M1947.5 1264.9H1936M1255 1208.8H1261M1947.5 1208.8H1941.5M1255 1152.7H1266.5M1947.5 1152.7H1936M1255 1096.6H1261M1947.5 1096.6H1941.5M1255 1040.5H1266.5M1947.5 1040.5H1936M1255 984.4H1261M1947.5 984.4H1941.5M1255 928.3H1266.5M1947.5 928.3H1936M1255 872.2H1261M1947.5 872.2H1941.5M1255 816.1H1266.5M1947.5 816.1H1936" stroke="#000" stroke-width="2.2" fill="none"/><rect x="1255" y="760" width="692.5" height="561" fill="none" stroke="#000" stroke-width="2.2"/><g clip-path="url(#ci)" fill="none" stroke-width="5" stroke-linejoin="round" stroke-linecap="round"><path stroke="#000000" d="M1234.3 1393.4L1254.5 1389.1 1273.5 1384.7 1290.5 1380.3 1305.8 1375.8 1320.6 1370.9 1334.4 1365.5 1345.1 1360.9 1355.2 1355.5 1361.4 1351.8 1367.8 1347.8 1374.7 1343.1 1381.3 1338.3 1388.9 1332.0 1403.0 1319.1 1413.7 1308.8 1424.4 1297.5 1429.2 1291.9 1434.3 1285.6 1438.9 1279.8 1442.9 1274.4 1448.2 1266.6 1452.9 1258.7 1457.3 1250.3 1461.0 1242.1 1473.8 1208.1 1488.4 1165.8 1500.5 1128.3 1503.8 1119.0 1511.3 1099.0 1516.4 1084.3 1517.9 1080.6 1519.6 1077.4 1525.5 1067.6 1528.7 1062.9 1529.8 1060.8 1530.8 1058.5 1531.3 1056.9 1531.8 1054.9 1534.0 1040.5 1535.9 1032.5 1538.0 1025.2 1540.1 1018.8 1546.7 999.8 1562.9 946.3 1565.9 936.7 1570.8 923.4 1576.3 910.2 1580.1 902.2 1584.8 893.0 1588.0 887.4 1590.7 883.2 1593.8 879.7 1600.5 873.4 1605.0 868.3 1616.2 853.7 1627.4 837.7 1631.7 831.9 1641.2 820.4 1645.4 815.8 1649.3 811.9 1652.7 808.8 1660.3 802.9 1663.8 800.0 1666.6 797.1 1670.2 792.1 1672.2 790.1 1674.6 788.1 1691.6 775.2 1712.5 762.1 1727.5 753.3 1738.7 747.5 1746.8 743.7 1790.4 724.5 1815.5 714.5 1833.2 707.9 1847.7 703.2 1865.0 698.3 1876.7 695.4 1888.8 692.5 1915.1 686.9 1937.7 682.7 1967.9 677.8M1234.3 1403.2L1264.5 1398.3 1287.1 1394.1 1313.4 1388.5 1325.5 1385.6 1337.2 1382.7 1354.5 1377.8 1369.0 1373.1 1386.7 1366.5 1411.8 1356.5 1455.4 1337.3 1463.5 1333.5 1474.7 1327.7 1489.7 1318.9 1510.6 1305.8 1527.6 1292.9 1530.0 1290.9 1532.0 1288.9 1535.6 1283.9 1538.4 1281.0 1541.9 1278.1 1549.5 1272.2 1552.9 1269.1 1556.8 1265.2 1561.0 1260.6 1570.5 1249.1 1574.8 1243.3 1586.0 1227.3 1597.2 1212.7 1601.7 1207.6 1608.4 1201.3 1611.5 1197.8 1614.2 1193.6 1617.4 1188.0 1622.1 1178.8 1625.9 1170.8 1631.4 1157.6 1636.3 1144.3 1639.3 1134.7 1655.5 1081.2 1662.1 1062.2 1664.2 1055.8 1666.3 1048.5 1668.2 1040.5 1670.4 1026.1 1670.9 1024.1 1671.4 1022.5 1672.4 1020.2 1673.5 1018.1 1676.7 1013.4 1682.6 1003.6 1684.3 1000.4 1685.8 996.7 1690.9 982.0 1698.4 962.0 1701.7 952.7 1713.8 915.2 1728.4 872.9 1741.2 838.9 1744.9 830.7 1749.3 822.3 1754.0 814.4 1759.3 806.6 1763.3 801.2 1767.9 795.4 1773.0 789.1 1777.8 783.5 1788.5 772.2 1799.2 761.9 1813.3 749.0 1820.9 742.7 1827.5 737.9 1834.4 733.2 1840.8 729.2 1847.0 725.5 1857.1 720.1 1867.8 715.5 1881.6 710.1 1896.4 705.2 1911.7 700.7 1928.7 696.3 1947.7 691.9 1967.9 687.6"/><path stroke="#ff0000" d="M1234.3 1300.2L1241.8 1299.4 1248.3 1298.0 1260.9 1293.0 1272.7 1289.0 1279.3 1287.1 1295.2 1283.2 1314.3 1277.9 1342.6 1269.6 1350.3 1267.1 1357.7 1264.5 1366.7 1261.0 1375.8 1257.2 1385.2 1253.1 1394.6 1248.7 1402.5 1244.3 1420.5 1233.4 1428.7 1229.1 1432.0 1227.7 1435.0 1226.6 1446.0 1223.7 1450.4 1222.2 1452.9 1221.2 1455.2 1219.9 1457.7 1218.0 1459.5 1216.0 1461.0 1213.7 1462.0 1211.3 1464.5 1203.9 1467.1 1198.0 1471.7 1189.3 1476.4 1181.6 1504.6 1140.1 1512.4 1127.6 1514.7 1124.0 1516.5 1121.7 1518.5 1119.7 1525.1 1113.8 1527.7 1111.2 1531.1 1107.0 1533.1 1103.5 1534.1 1101.3 1534.7 1099.6 1538.0 1084.8 1542.7 1069.0 1548.0 1053.5 1557.8 1026.6 1566.8 1003.8 1580.8 970.5 1586.7 957.6 1589.3 952.6 1591.7 948.6 1593.9 945.3 1596.4 942.0 1605.0 931.5 1613.4 922.2 1624.4 910.8 1646.9 888.8 1654.1 882.0 1658.1 878.6 1661.9 875.7 1667.0 872.6 1668.9 871.1 1670.0 869.7 1672.7 865.4 1676.0 861.8 1682.5 855.7 1689.3 850.4 1695.1 846.5 1701.3 842.9 1707.5 839.7 1714.2 837.0 1734.8 829.7 1760.1 819.8 1787.8 809.6 1808.7 802.6 1830.8 796.0 1848.1 791.2 1864.2 787.0 1888.7 781.2 1901.6 778.5 1909.2 777.3 1918.9 776.0 1967.9 770.5M1234.3 1318.9L1240.6 1317.5 1244.2 1316.2 1248.7 1313.9 1253.0 1310.4 1254.5 1309.5 1257.9 1308.3 1261.9 1307.3 1267.6 1306.2 1274.9 1305.2 1293.0 1303.8 1302.0 1302.7 1323.5 1299.2 1346.6 1295.8 1360.0 1293.4 1377.3 1289.7 1397.0 1284.8 1421.0 1278.1 1443.3 1271.5 1451.6 1268.6 1455.4 1267.0 1457.9 1265.7 1460.9 1263.5 1464.5 1258.9 1466.9 1257.4 1469.5 1255.9 1472.4 1254.6 1475.6 1253.3 1489.7 1248.9 1495.9 1246.4 1504.6 1241.8 1510.9 1238.1 1518.9 1233.0 1524.7 1230.1 1527.2 1228.5 1529.7 1226.2 1531.9 1223.4 1532.5 1221.6 1534.0 1214.4 1535.4 1211.5 1537.4 1208.8 1539.9 1206.3 1545.5 1201.7 1556.1 1194.1 1560.3 1190.8 1565.5 1185.9 1575.8 1175.5 1580.1 1170.9 1583.5 1166.8 1596.7 1149.3 1600.1 1144.9 1603.5 1141.2 1610.1 1135.1 1612.9 1132.2 1615.8 1128.6 1618.7 1124.1 1621.7 1118.6 1625.0 1112.0 1636.1 1088.1 1643.0 1072.0 1648.8 1056.8 1652.3 1046.9 1655.2 1037.8 1661.4 1013.4 1665.2 999.6 1670.7 980.4 1672.1 976.5 1674.0 973.4 1676.3 970.7 1678.5 968.6 1683.7 964.2 1692.3 955.9 1695.8 952.0 1698.7 948.0 1701.7 943.1 1707.7 932.7 1714.6 919.6 1717.5 914.6 1720.7 910.0 1728.0 900.7 1731.7 895.4 1733.3 892.9 1734.7 890.2 1735.3 888.3 1739.6 873.4 1740.5 871.8 1742.5 869.3 1744.1 867.9 1745.7 866.7 1750.3 864.4 1754.0 863.1 1763.4 860.5 1766.1 859.5 1769.1 858.1 1773.5 855.7 1785.0 849.1 1810.5 836.1 1830.2 825.2 1837.1 821.9 1846.2 817.9 1856.2 813.9 1865.4 810.5 1883.6 804.5 1907.7 796.1 1929.1 789.4 1939.3 785.9 1947.9 782.7 1956.1 778.7 1959.3 777.3 1967.9 775.2"/><path stroke="#0000ff" d="M1234.3 1303.2L1242.6 1302.1 1248.3 1300.8 1250.1 1300.0 1254.7 1297.6 1260.2 1295.6 1276.4 1290.7 1294.0 1285.8 1312.5 1280.1 1326.4 1275.3 1339.7 1269.9 1358.1 1261.6 1388.9 1246.2 1393.5 1243.6 1396.7 1241.5 1411.2 1230.8 1421.7 1224.3 1428.1 1220.7 1433.4 1218.0 1437.0 1216.5 1445.5 1213.3 1449.7 1211.5 1454.1 1208.9 1455.6 1207.8 1457.0 1206.6 1459.7 1203.4 1462.3 1199.3 1464.6 1193.4 1466.7 1188.7 1474.6 1172.3 1492.5 1136.9 1497.0 1128.6 1501.2 1121.4 1505.5 1114.7 1510.6 1108.0 1516.8 1100.8 1523.0 1095.0 1525.3 1092.7 1527.7 1089.5 1529.5 1086.4 1530.7 1083.9 1531.6 1080.9 1535.2 1065.4 1537.0 1059.4 1540.2 1050.7 1547.0 1034.1 1551.8 1022.9 1558.1 1009.0 1571.6 980.4 1579.5 962.2 1583.9 953.7 1588.2 946.4 1592.0 941.0 1596.5 935.6 1601.2 931.0 1606.4 926.8 1611.1 921.8 1618.8 912.3 1628.5 899.5 1634.0 893.0 1639.2 887.5 1645.9 881.0 1658.7 870.0 1662.3 867.6 1667.1 865.4 1669.1 864.2 1670.2 863.0 1672.8 859.1 1675.1 856.5 1679.4 852.4 1684.1 848.6 1689.3 845.3 1700.2 839.0 1709.3 833.2 1712.2 831.6 1716.1 829.9 1723.9 826.9 1752.5 815.4 1764.7 810.8 1784.5 804.2 1816.0 794.2 1827.5 790.7 1841.6 786.9 1857.6 783.1 1871.4 780.2 1888.8 777.1 1899.9 775.3 1910.4 773.7 1945.3 769.8 1967.9 766.6M1234.3 1321.7L1241.4 1320.0 1243.9 1319.1 1246.5 1317.9 1248.9 1316.6 1253.2 1312.5 1254.1 1311.8 1255.1 1311.5 1260.9 1310.7 1272.4 1310.0 1279.5 1309.3 1297.6 1307.1 1306.4 1305.7 1354.3 1297.3 1381.7 1292.9 1392.0 1291.0 1400.7 1289.1 1410.7 1286.4 1422.3 1283.0 1443.2 1276.5 1451.1 1273.5 1455.5 1271.4 1458.3 1269.6 1461.0 1267.3 1464.4 1263.0 1466.2 1261.8 1468.7 1260.5 1472.0 1259.0 1475.6 1257.7 1490.7 1253.5 1493.8 1252.4 1496.7 1251.0 1500.9 1248.8 1505.6 1245.8 1518.8 1236.4 1525.8 1231.6 1529.5 1228.3 1531.2 1226.5 1532.5 1224.8 1533.6 1222.7 1534.7 1220.0 1535.9 1215.2 1537.6 1213.1 1539.1 1211.6 1540.8 1210.4 1547.4 1207.2 1550.7 1204.9 1558.6 1198.4 1565.0 1192.3 1577.3 1179.5 1582.1 1174.1 1586.2 1169.2 1598.3 1153.3 1601.1 1149.9 1604.3 1146.6 1611.5 1140.1 1614.5 1136.9 1618.8 1131.4 1623.5 1124.2 1627.1 1118.2 1631.0 1111.3 1633.8 1106.0 1636.4 1100.6 1643.9 1083.4 1653.7 1059.3 1661.7 1037.8 1666.1 1024.9 1668.8 1016.0 1673.6 996.0 1674.3 993.7 1675.3 991.5 1676.9 988.7 1679.4 985.7 1681.8 983.5 1687.9 978.4 1691.8 974.2 1696.9 967.7 1701.6 960.6 1704.6 954.9 1711.8 939.7 1718.3 928.0 1724.1 918.5 1731.3 909.0 1733.1 906.3 1734.7 903.6 1736.6 899.3 1739.5 891.3 1742.4 881.8 1743.5 879.8 1745.3 877.6 1747.1 876.0 1749.7 874.1 1752.1 872.6 1754.9 871.1 1764.8 866.5 1780.7 860.1 1787.8 856.6 1794.3 852.4 1809.0 842.1 1826.8 830.5 1832.9 826.8 1840.3 822.7 1852.3 816.4 1860.3 812.9 1869.7 809.5 1906.8 797.5 1912.2 795.9 1925.8 792.3 1933.4 789.7 1937.7 787.7 1943.4 784.4 1952.6 777.7 1959.7 773.3 1962.6 771.9 1967.9 770.4"/><path stroke="#ff00ff" d="M1234.3 1279.0L1252.7 1277.0 1256.2 1276.5 1259.3 1275.8 1273.9 1271.2 1290.9 1267.0 1298.8 1264.7 1310.3 1261.0 1325.3 1255.6 1335.2 1251.8 1344.6 1247.9 1353.8 1244.0 1360.6 1240.7 1391.1 1225.2 1396.4 1222.3 1408.2 1214.9 1411.4 1213.1 1414.7 1211.6 1438.8 1201.9 1442.6 1200.7 1450.5 1198.9 1454.0 1197.9 1457.9 1196.5 1460.2 1195.1 1461.0 1194.1 1462.0 1192.5 1471.8 1174.1 1493.7 1137.9 1496.2 1133.4 1501.7 1122.9 1504.6 1118.1 1508.1 1113.8 1512.4 1109.4 1517.2 1105.1 1522.6 1101.6 1524.4 1100.2 1526.4 1098.3 1528.0 1096.2 1528.9 1094.3 1530.0 1090.9 1537.4 1064.4 1539.4 1059.0 1541.7 1053.4 1553.6 1028.2 1562.2 1010.7 1573.0 989.6 1582.3 970.9 1585.5 965.0 1588.2 960.5 1591.4 956.4 1595.6 952.2 1598.1 950.1 1601.0 948.0 1606.1 945.0 1607.9 943.5 1609.8 941.5 1612.9 937.9 1618.7 930.4 1626.3 919.3 1629.3 915.3 1635.6 908.1 1643.3 900.2 1647.9 895.9 1651.8 892.9 1655.2 890.9 1663.2 886.6 1668.2 883.5 1669.6 882.0 1672.5 877.3 1674.2 875.9 1677.4 874.1 1684.4 871.3 1692.9 866.8 1706.1 859.1 1718.6 851.0 1723.3 848.5 1726.9 847.1 1734.9 844.7 1738.9 843.3 1756.8 835.7 1764.6 832.7 1777.6 828.1 1788.9 824.4 1796.8 822.1 1803.7 820.3 1826.8 815.3 1835.4 813.2 1843.3 810.9 1865.6 803.7 1871.5 802.1 1881.4 799.9 1895.2 797.1 1911.0 794.3 1947.0 789.2 1967.9 785.9M1234.3 1299.0L1240.2 1297.9 1242.4 1297.4 1245.3 1296.3 1251.8 1293.5 1254.7 1292.5 1261.3 1290.8 1267.4 1289.6 1276.3 1288.3 1292.7 1287.0 1301.2 1286.0 1344.0 1280.3 1353.5 1278.9 1361.7 1277.4 1373.0 1274.9 1392.4 1270.2 1408.6 1266.9 1415.6 1265.1 1444.7 1255.7 1448.9 1254.2 1452.5 1252.7 1455.8 1251.1 1458.3 1249.4 1461.0 1247.1 1464.2 1243.4 1467.3 1241.6 1470.6 1240.1 1474.2 1238.8 1489.4 1234.7 1492.9 1233.6 1496.1 1232.3 1501.2 1229.6 1513.2 1222.1 1522.4 1217.6 1528.2 1214.3 1530.0 1212.7 1531.3 1210.7 1533.1 1201.3 1534.1 1199.4 1535.2 1197.9 1536.7 1196.5 1539.8 1194.1 1547.8 1189.5 1551.7 1186.6 1562.6 1176.1 1574.3 1164.1 1587.8 1149.5 1593.1 1143.4 1609.4 1121.4 1614.1 1114.7 1617.6 1109.2 1621.6 1102.3 1642.9 1063.2 1649.3 1051.1 1654.5 1040.2 1659.6 1028.5 1663.8 1017.7 1665.9 1011.2 1671.3 992.1 1673.8 985.2 1675.3 981.9 1676.4 980.4 1677.9 978.9 1679.4 977.8 1684.0 975.0 1688.3 971.2 1693.0 966.5 1696.9 961.8 1700.2 956.7 1705.9 947.0 1714.0 933.4 1718.7 926.2 1723.6 919.5 1729.1 912.6 1730.8 910.8 1734.9 906.9 1737.3 903.9 1738.3 902.2 1738.7 901.2 1740.6 894.0 1741.4 891.5 1743.8 887.9 1746.3 885.0 1748.9 883.0 1753.1 881.0 1756.2 879.9 1763.3 877.8 1771.1 875.3 1773.8 874.3 1776.9 872.9 1783.1 869.4 1797.4 860.4 1817.7 849.0 1839.6 837.4 1846.1 834.4 1852.8 831.5 1872.2 824.3 1887.3 818.4 1895.9 815.5 1902.8 813.7 1920.5 809.4 1967.9 797.4"/><path stroke="#008000" d="M1234.3 1306.5L1242.9 1305.4 1248.3 1304.1 1250.1 1303.3 1254.3 1300.6 1257.5 1299.4 1262.4 1297.8 1274.3 1294.7 1287.6 1290.7 1296.8 1287.7 1342.4 1271.4 1354.3 1266.7 1360.8 1263.9 1367.5 1260.8 1374.1 1257.5 1380.1 1254.2 1394.7 1245.6 1411.1 1235.3 1421.2 1229.3 1426.6 1226.3 1430.3 1224.5 1433.6 1223.1 1446.8 1218.8 1453.6 1216.1 1457.2 1214.3 1459.9 1212.2 1460.6 1211.3 1461.3 1210.0 1464.2 1202.7 1466.0 1199.0 1469.6 1192.2 1472.9 1186.6 1476.3 1181.5 1483.0 1171.8 1504.4 1140.6 1513.8 1125.4 1515.8 1122.6 1518.1 1120.1 1525.3 1113.7 1527.9 1111.0 1531.1 1107.0 1533.0 1103.7 1534.1 1101.3 1534.8 1099.1 1538.0 1084.8 1544.4 1061.8 1548.9 1047.3 1553.4 1034.9 1557.9 1023.6 1563.2 1011.8 1574.0 988.8 1583.7 967.3 1586.7 961.2 1589.5 956.4 1591.6 953.4 1593.8 950.7 1604.8 939.6 1613.8 929.6 1619.1 923.2 1628.2 911.0 1636.0 902.2 1645.4 892.2 1650.8 886.9 1655.4 883.1 1662.5 877.4 1666.3 874.7 1668.2 872.9 1669.7 871.0 1672.9 865.1 1677.1 859.7 1679.6 856.9 1682.1 854.4 1684.6 852.2 1687.7 849.7 1692.3 846.6 1697.7 843.3 1707.0 838.2 1714.2 834.5 1719.4 832.1 1724.4 830.1 1734.8 826.9 1739.1 825.3 1744.2 822.8 1755.4 816.9 1760.3 814.7 1767.6 811.9 1775.9 809.1 1816.6 796.3 1833.2 791.4 1850.9 786.5 1881.9 778.8 1898.2 775.0 1906.4 773.3 1914.4 771.8 1945.9 766.9 1967.9 763.1M1234.3 1327.9L1240.3 1326.5 1242.9 1325.4 1245.3 1324.1 1248.6 1321.8 1252.7 1317.6 1254.3 1316.4 1256.9 1315.3 1261.1 1314.2 1266.9 1313.0 1274.8 1312.0 1292.3 1310.6 1299.8 1309.7 1309.4 1308.1 1325.5 1305.1 1352.5 1299.3 1372.5 1295.3 1392.0 1290.0 1410.0 1286.2 1414.0 1285.2 1418.3 1283.8 1432.5 1278.6 1444.8 1274.4 1450.7 1272.1 1455.1 1269.9 1457.7 1268.3 1460.9 1265.8 1464.4 1261.8 1468.8 1259.3 1472.0 1257.9 1475.4 1256.6 1490.1 1252.2 1493.3 1251.0 1496.2 1249.6 1499.9 1247.5 1504.1 1244.8 1509.6 1240.7 1518.8 1233.5 1525.9 1228.9 1527.6 1227.5 1529.1 1225.9 1530.5 1224.0 1531.9 1221.7 1532.5 1219.7 1533.8 1212.1 1535.1 1208.4 1536.1 1206.6 1537.2 1205.4 1538.4 1204.4 1543.2 1201.8 1550.4 1196.8 1555.3 1193.2 1559.6 1189.7 1563.3 1186.4 1567.6 1182.2 1573.4 1176.2 1578.1 1171.0 1584.6 1163.0 1593.2 1151.0 1601.8 1138.2 1612.2 1123.3 1620.3 1110.2 1626.7 1099.1 1632.2 1088.2 1636.7 1078.2 1641.7 1065.6 1654.8 1029.8 1665.7 998.2 1669.1 987.2 1671.4 976.2 1672.4 973.2 1674.2 970.3 1676.1 968.0 1678.3 966.0 1683.7 961.9 1691.5 954.5 1695.5 950.1 1698.8 945.6 1702.1 940.2 1707.5 930.7 1714.7 916.2 1717.6 911.0 1720.8 906.6 1727.2 899.3 1731.9 893.4 1733.3 891.6 1734.5 889.5 1735.5 887.6 1736.2 885.7 1738.4 877.5 1740.5 870.7 1741.2 868.9 1741.7 868.1 1743.5 866.6 1745.6 865.4 1752.5 862.2 1760.3 859.0 1774.7 852.8 1786.8 847.0 1793.8 843.3 1826.1 825.1 1832.8 821.7 1839.7 818.4 1850.5 813.9 1862.3 809.4 1883.6 802.3 1909.5 793.3 1921.4 789.4 1926.3 787.5 1929.7 786.1 1932.6 784.6 1941.8 778.9 1950.4 773.8 1953.9 771.9 1956.4 770.8 1959.8 769.6 1967.9 767.1"/><path stroke="#000080" d="M1234.3 1284.5L1242.4 1282.9 1254.8 1279.6 1274.8 1274.9 1294.1 1270.0 1317.0 1265.0 1326.5 1262.6 1335.1 1260.1 1345.6 1256.8 1357.8 1252.8 1374.1 1247.0 1386.3 1243.1 1392.0 1240.9 1396.1 1238.8 1399.9 1236.5 1410.8 1228.7 1416.5 1225.4 1422.6 1222.1 1429.1 1218.9 1434.9 1216.4 1440.4 1214.2 1447.1 1212.1 1450.0 1211.0 1452.6 1209.5 1455.4 1207.2 1458.5 1204.1 1464.4 1197.8 1468.0 1193.3 1472.7 1187.1 1505.9 1138.3 1521.9 1116.2 1527.7 1109.3 1530.0 1105.8 1531.2 1103.3 1531.8 1101.8 1534.0 1092.7 1535.1 1089.4 1537.4 1084.2 1543.1 1074.2 1547.5 1064.2 1557.4 1039.1 1566.4 1014.3 1570.7 1003.5 1574.8 994.0 1578.8 985.5 1586.2 970.7 1589.3 965.2 1591.0 963.0 1592.7 961.3 1594.7 959.7 1599.2 956.7 1601.1 955.2 1604.7 952.0 1608.4 948.1 1612.7 943.3 1618.1 936.8 1626.6 925.5 1630.2 921.0 1636.0 914.5 1647.3 902.4 1650.6 899.4 1654.8 896.2 1663.5 890.6 1667.0 888.7 1668.6 887.6 1669.7 886.4 1672.7 881.6 1673.9 880.5 1675.7 879.1 1678.9 877.3 1687.5 873.2 1701.0 867.3 1706.7 864.5 1710.7 862.1 1720.1 855.4 1722.5 854.0 1724.7 852.9 1727.7 851.7 1734.8 849.4 1738.4 848.0 1755.6 840.2 1762.5 837.4 1776.5 832.5 1793.5 827.1 1813.3 821.4 1856.9 809.7 1870.1 806.4 1895.2 800.6 1903.4 799.0 1911.0 797.8 1919.7 796.7 1946.0 793.8 1956.1 792.4 1967.9 790.4M1234.3 1285.8L1257.5 1283.1 1274.8 1280.6 1295.4 1276.5 1328.6 1270.8 1364.7 1263.8 1375.5 1261.4 1394.3 1255.7 1411.8 1251.5 1429.3 1247.0 1444.8 1242.3 1450.5 1240.3 1455.6 1238.3 1462.4 1234.7 1468.9 1231.6 1507.0 1213.8 1515.2 1209.4 1522.1 1205.1 1526.8 1201.7 1530.4 1198.7 1532.7 1196.3 1535.1 1192.8 1536.9 1191.2 1540.1 1189.1 1547.4 1185.3 1551.1 1182.6 1555.3 1178.8 1565.9 1168.2 1579.1 1154.5 1589.8 1142.4 1594.0 1137.0 1601.8 1126.0 1609.8 1116.2 1613.1 1111.7 1615.6 1107.8 1618.0 1103.1 1626.0 1084.1 1628.8 1078.1 1631.4 1073.2 1637.9 1062.3 1641.4 1055.3 1642.8 1051.8 1645.9 1042.6 1647.5 1038.9 1650.0 1033.4 1656.7 1019.4 1663.8 1003.0 1665.7 997.8 1667.5 992.3 1670.3 981.0 1671.8 977.0 1673.6 973.3 1675.8 969.8 1678.6 966.1 1692.2 949.9 1695.6 945.5 1698.7 941.1 1705.5 930.5 1708.5 926.2 1718.2 913.5 1729.3 900.1 1738.3 886.9 1740.2 884.5 1743.4 881.4 1747.8 877.6 1755.4 871.9 1761.1 868.0 1766.5 864.7 1770.9 862.3 1781.6 857.1 1786.4 854.5 1791.5 851.5 1803.7 843.8 1809.9 840.3 1816.3 837.1 1823.0 834.0 1836.8 828.3 1849.1 823.9 1864.6 818.9 1878.5 814.9 1899.6 809.1 1905.4 807.7 1910.7 806.7 1927.6 804.2 1933.7 803.1 1946.4 800.0 1967.9 795.3"/></g><g font-family='"Liberation Sans", Arial, sans-serif' font-size="26" fill="#000"><text x="1324.3" y="1355.3" text-anchor="middle" transform="translate(0 -54.2) scale(1 1.04)">-0.4</text><text x="1462.7" y="1355.3" text-anchor="middle" transform="translate(0 -54.2) scale(1 1.04)">-0.2</text><text x="1601.1" y="1355.3" text-anchor="middle" transform="translate(0 -54.2) scale(1 1.04)">0.0</text><text x="1739.5" y="1355.3" text-anchor="middle" transform="translate(0 -54.2) scale(1 1.04)">0.2</text><text x="1877.9" y="1355.3" text-anchor="middle" transform="translate(0 -54.2) scale(1 1.04)">0.4</text><text x="1241.5" y="1273.6" text-anchor="end" transform="translate(0 -63.7) scale(1 1.05)">-40</text><text x="1241.5" y="1161.4" text-anchor="end" transform="translate(0 -58.1) scale(1 1.05)">-20</text><text x="1241.5" y="1049.2" text-anchor="end" transform="translate(0 -52.5) scale(1 1.05)">0</text><text x="1241.5" y="937" text-anchor="end" transform="translate(0 -46.9) scale(1 1.05)">20</text><text x="1241.5" y="824.8" text-anchor="end" transform="translate(0 -41.2) scale(1 1.05)">40</text></g><text transform="translate(1201.8,1047) rotate(-90)" text-anchor="middle" font-family='"Liberation Sans", Arial, sans-serif' font-size="31.5">M (emu/g)</text><text x="1606.5" y="1398" text-anchor="middle" font-family='"Liberation Sans", Arial, sans-serif' font-size="31.5"><tspan font-family='"Liberation Serif", "Times New Roman", serif'>&#956;</tspan><tspan font-family='"Liberation Serif", "Times New Roman", serif' font-size="21" dy="6.5">0</tspan><tspan dy="-6.5">H (T)</tspan></text>
</svg></body></html>
